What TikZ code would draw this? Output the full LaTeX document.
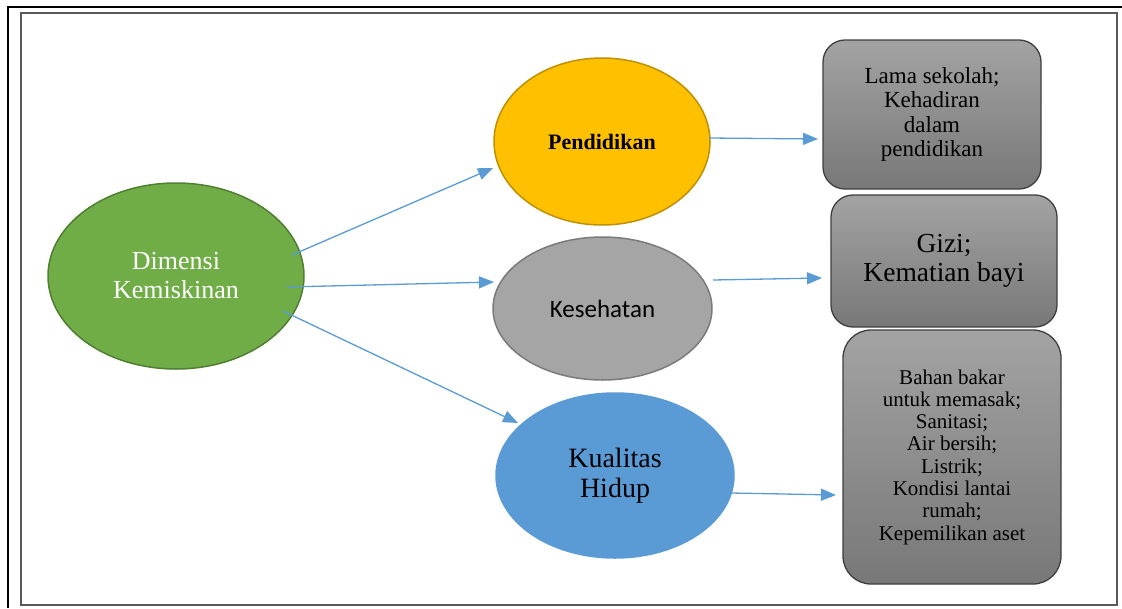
\documentclass[tikz,border=0pt]{standalone}
\usepackage{fontspec}
\setmainfont{Liberation Serif}
\newfontfamily\calib{Carlito}
\usetikzlibrary{shapes.geometric,arrows.meta,calc}
\definecolor{cgreen}{HTML}{70AD47}
\definecolor{cgreenb}{HTML}{507E32}
\definecolor{cgold}{HTML}{FFC000}
\definecolor{cgoldb}{HTML}{BF9000}
\definecolor{cgray}{HTML}{A5A5A5}
\definecolor{cgrayb}{HTML}{7B7B7B}
\definecolor{cblue}{HTML}{5B9BD5}
\definecolor{cboxt}{HTML}{A3A3A3}
\definecolor{cboxb}{HTML}{787878}
\definecolor{cboxd}{HTML}{3F3F3F}
\definecolor{cframe}{HTML}{5A5A5A}
\tikzset{
  oval/.style={ellipse, inner sep=0pt, line width=1.5pt},
  gbox/.style={rectangle, inner sep=0pt, align=center, draw=cboxd, line width=1.3pt,
    top color=cboxt, bottom color=cboxb, text=black},
  link/.style={draw=cblue, line width=1.3pt, -{Triangle[length=15pt,width=12pt]}},
}
\begin{document}
\begin{tikzpicture}[x=1pt,y=-1pt]
\useasboundingbox (0,0) rectangle (1122,608);
% frames
\draw[line width=2pt, black] (8,608) -- (8,7) -- (1122,7);
\draw[line width=1.3pt, cframe] (21,13) rectangle (1117,605);
% ellipses
\node[oval, fill=cgreen, draw=cgreenb, minimum width=256pt, minimum height=186pt,
  text=white, align=center, font=\fontsize{26}{29}\selectfont] (dk) at (176,276) {Dimensi\\Kemiskinan};
\node[oval, fill=cgold, draw=cgoldb, minimum width=216pt, minimum height=167pt,
  font=\fontsize{22}{26}\selectfont\bfseries] (pd) at (602,141.5) {Pendidikan};
\node[oval, fill=cgray, draw=cgrayb, minimum width=219pt, minimum height=143pt,
  font=\calib\fontsize{25}{30}\selectfont] (ks) at (602.5,308.5) {Kesehatan};
\node[oval, fill=cblue, draw=cblue, minimum width=238pt, minimum height=165pt,
  align=center, font=\fontsize{28}{30}\selectfont] (kh) at (615,475.5) {Kualitas\\Hidup};
% boxes
\node[gbox, rounded corners=22pt, minimum width=218pt, minimum height=149pt,
  font=\fontsize{23}{24.5}\selectfont] (b1) at (932,114.5) {Lama sekolah;\\Kehadiran\\dalam\\pendidikan};
\node[gbox, rounded corners=22pt, minimum width=226pt, minimum height=132pt,
  font=\fontsize{27.5}{29}\selectfont] (b2) at (944,261) {Gizi;\\Kematian bayi};
\node[gbox, rounded corners=28pt, minimum width=218pt, minimum height=254pt,
  font=\fontsize{21}{22.3}\selectfont] (b3) at (952,457) {Bahan bakar\\untuk memasak;\\Sanitasi;\\Air bersih;\\Listrik;\\Kondisi lantai\\rumah;\\Kepemilikan aset};
% connectors
\draw[link] ($(dk)+(116,-21)$) -- ($(pd)+(-109,26.5)$);
\draw[link] ($(dk)+(111,11)$) -- ($(ks)+(-108.5,-26.5)$);
\draw[link] ($(dk)+(107,35)$) -- ($(kh)+(-97,-52.5)$);
\draw[link] ($(pd)+(107,-3.5)$) -- ($(b1)+(-114,24.5)$);
\draw[link] ($(ks)+(110.5,-28.5)$) -- ($(b2)+(-122,17)$);
\draw[link] ($(kh)+(116,17.5)$) -- ($(b3)+(-116,38)$);
\end{tikzpicture}
\end{document}
